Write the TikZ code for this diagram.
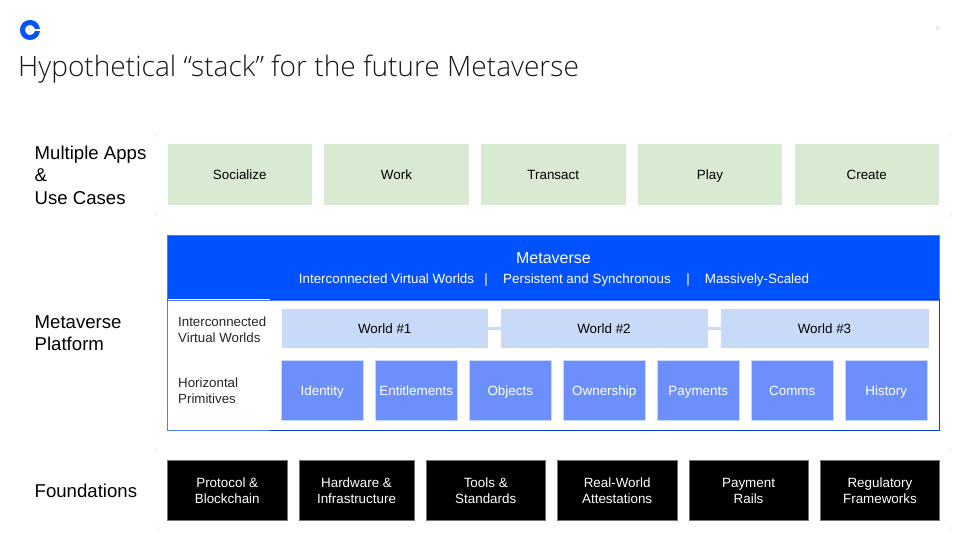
\documentclass[tikz,border=0pt]{standalone}
\usepackage{fontspec}
\setmainfont{Liberation Sans}
\newfontfamily\titlefont[UprightFont=* Light]{Open Sans}
\usepackage{tikz}
\usetikzlibrary{positioning}
\definecolor{appgreen}{HTML}{D9EAD3}
\definecolor{metablue}{HTML}{0052FF}
\definecolor{worldblue}{HTML}{C9DAF8}
\definecolor{primblue}{HTML}{6D8FFC}
\definecolor{framedark}{HTML}{0B3FCF}
\definecolor{framelight}{HTML}{4F7BF5}
\definecolor{framegrey}{HTML}{E6E6E6}
\newcommand\boxstrut{\rule[-3.6pt]{0pt}{17.8pt}}
\tikzset{
  box/.style={inner sep=0pt,outer sep=0pt,align=center,anchor=north west,font=\fontsize{13.4}{16}\selectfont,
    execute at begin node=\boxstrut,execute at end node=\boxstrut},
  app/.style={box,fill=appgreen,minimum width=144.5pt,minimum height=60pt},
  world/.style={box,fill=worldblue,minimum height=39pt},
  prim/.style={box,fill=primblue,draw=worldblue,line width=.5pt,text=white,minimum width=81.5pt,minimum height=60pt},
  base/.style={inner sep=0pt,outer sep=0pt,align=center,anchor=north west,font=\fontsize{13.4}{16}\selectfont,
    fill=black,draw=black!55,line width=.5pt,text=white,minimum width=119.5pt,minimum height=60pt,text depth=-1.5pt},
  heading/.style={inner sep=0pt,anchor=west,align=left,font=\fontsize{18.6}{22.5}\selectfont},
  sidenote/.style={inner sep=0pt,anchor=west,align=left,font=\fontsize{13.3}{16}\selectfont,text=black!85},
  tagline/.style={inner sep=0pt,text=white,font=\fontsize{13.4}{16}\selectfont,execute at begin node=\strut},
  corner/.style={draw=framegrey,line width=.4pt}
}
\begin{document}
\begin{tikzpicture}[x=1pt,y=-1pt]
\useasboundingbox (0,0) rectangle (960,540);
\fill[white] (0,0) rectangle (960,540);
% logo
\draw[metablue,line width=5pt] (30,30) circle (7.5);
\fill[white] (30,28.6) rectangle (41,31.4);
\node[inner sep=0pt,anchor=west,font=\titlefont\fontsize{28.1}{32}\selectfont,text=black!90] (title) at (18,68.7) {Hypothetical “stack” for the future Metaverse};
\node[inner sep=0pt,font=\fontsize{8}{8}\selectfont,text=black!15] (mark) at (938,28) {e};
% corners of the rows
\draw[corner] (155,137) arc (180:270:4) (155,212) arc (180:90:4);
\draw[corner] (948,133) arc (270:360:4) (952,213) arc (0:90:4);
\draw[corner] (155,452) arc (180:270:4) (155,526) arc (180:90:4);
\draw[corner] (948,448) arc (270:360:4) (952,526) arc (0:90:4);
% apps
\node[heading] (lapps) at (34.5,175) {Multiple Apps\\\&\\Use Cases};
\node[app] (a1) at (167.5,144.5) {Socialize};
\node[app] (a2) [right=12.25pt of a1.north east,anchor=north west] {Work};
\node[app] (a3) [right=12.25pt of a2.north east,anchor=north west] {Transact};
\node[app] (a4) [right=12.25pt of a3.north east,anchor=north west] {Play};
\node[app] (a5) [right=12.25pt of a4.north east,anchor=north west] {Create};
% platform
\node[heading] (lplat) at (34.5,333) {Metaverse\\Platform};
\node[box,fill=metablue,draw=framelight,line width=.5pt,minimum width=772pt,minimum height=65pt] (head) at (167.5,235) {};
\node[box,draw=framedark,line width=.8pt,minimum width=772pt,minimum height=131pt] (frame) at (167.5,299.5) {};
\draw[white,line width=1pt] (168,299.7) -- (270,299.7);
\draw[framelight,line width=.8pt] (270,430.5) -- (frame.south west) -- (frame.north west);
\node[inner sep=0pt,text=white,font=\fontsize{16}{18}\selectfont] (mname) at (553.5,258.5) {Metaverse};
\node[tagline] (s1) at (386.5,280.5) {Interconnected Virtual Worlds};
\node[tagline] (b1) at (486,280.5) {|};
\node[tagline] (s2) at (587,280.5) {Persistent and Synchronous};
\node[tagline] (b2) at (688,280.5) {|};
\node[tagline] (s3) at (757,280.5) {Massively-Scaled};
\node[sidenote] (lworld) at (178,330) {Interconnected\\Virtual Worlds};
\node[sidenote] (lprim) at (178,391) {Horizontal\\Primitives};
\node[world,minimum width=206.5pt] (w1) at (281.5,309) {World \#1};
\node[world,minimum width=207pt] (w2) at (500.5,309) {World \#2};
\node[world,minimum width=208pt] (w3) at (720.5,309) {World \#3};
\path[draw=worldblue,line width=2.5pt] (w1) edge (w2)
                                       (w2) edge (w3);
\node[prim] (p1) at (281.5,360.5) {Identity};
\node[prim] (p2) [right=12.5pt of p1.north east,anchor=north west] {Entitlements};
\node[prim] (p3) [right=12.5pt of p2.north east,anchor=north west] {Objects};
\node[prim] (p4) [right=12.5pt of p3.north east,anchor=north west] {Ownership};
\node[prim] (p5) [right=12.5pt of p4.north east,anchor=north west] {Payments};
\node[prim] (p6) [right=12.5pt of p5.north east,anchor=north west] {Comms};
\node[prim] (p7) [right=12.5pt of p6.north east,anchor=north west] {History};
% foundations
\node[heading] (lbase) at (34.5,491) {Foundations};
\node[base] (f1) at (167.5,460.5) {Protocol \&\\Blockchain};
\node[base,minimum width=115pt] (f2) [right=12pt of f1.north east,anchor=north west] {Hardware \&\\Infrastructure};
\node[base] (f3) [right=12pt of f2.north east,anchor=north west] {Tools \&\\Standards};
\node[base] (f4) [right=11.9pt of f3.north east,anchor=north west] {Real-World\\Attestations};
\node[base] (f5) [right=11.9pt of f4.north east,anchor=north west] {Payment\\Rails};
\node[base] (f6) [right=11.9pt of f5.north east,anchor=north west] {Regulatory\\Frameworks};
\end{tikzpicture}
\end{document}
